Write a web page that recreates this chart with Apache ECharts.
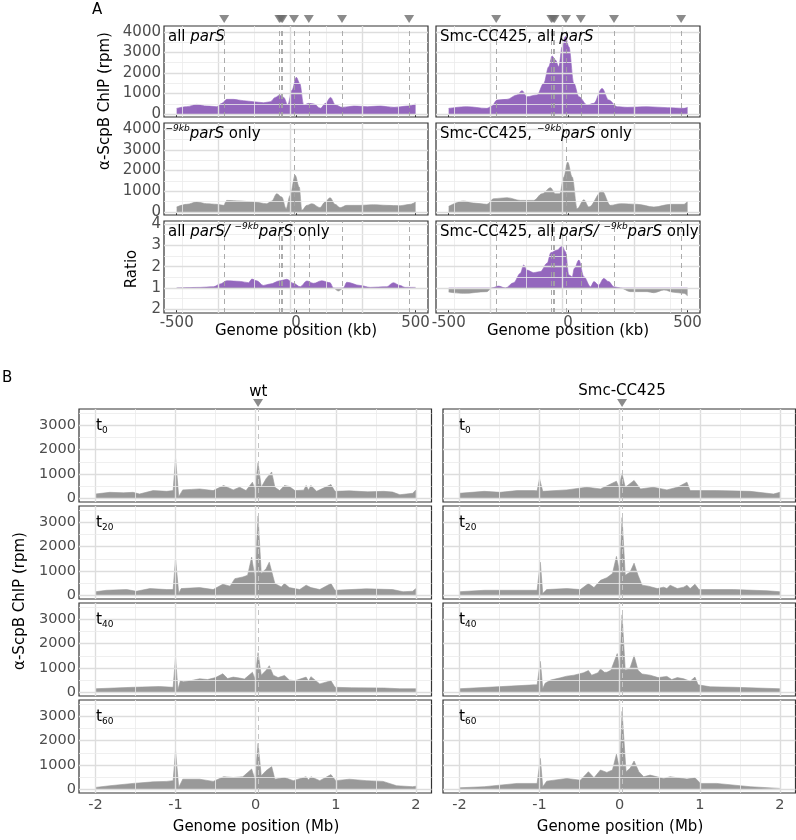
<!DOCTYPE html>
<html><head><meta charset="utf-8">
<script src="https://cdn.jsdelivr.net/npm/echarts@6/dist/echarts.min.js"></script>
<style>html,body{margin:0;padding:0;background:#fff}#c{width:796px;height:840px}</style>
</head><body><div id="c"></div>
<script>
// ---------------- data ----------------
const parsKb = [-301, -70, -63, -57, -9, 53, 192, 473];
const parsKbSingle = [-9];
const parsMb = [0.03];

const ticksKb = [-500, 0, 500];
const ticksRpmA = [0, 1000, 2000, 3000, 4000];
const ticksRatio = [0, 1, 2, 3, 4];
const ratioTickText = ['2', '1', '2', '3', '4'];
const ticksMb = [-2, -1, 0, 1, 2];
const ticksRpmB = [0, 1000, 2000, 3000];

// grid breaks
const gridKbMajor = [-326, -25, 275];
const gridKbMinor = [-476, -176, 125, 426];
const gridRpmAMajor = [0, 1000, 2000, 3000, 4000];
const gridRpmAMinor = [500, 1500, 2500, 3500];
const gridRatioMajor = [0, 1, 2, 3, 4];
const gridRatioMinor = [0.5, 1.5, 2.5, 3.5];
const gridMbMajor = [-2, -1, 0, 1, 2];
const gridMbMinor = [-1.5, -0.5, 0.5, 1.5];
const gridRpmBMajor = [0, 1000, 2000, 3000];
const gridRpmBMinor = [500, 1500, 2500, 3500];

// Panel A (kb, rpm)
const wtAll = [[-500,276],[-458,358],[-416,470],[-374,390],[-332,358],[-311,520],[-290,715],[-262,715],[-220,650],[-178,600],[-136,550],[-108,600],[-87,810],[-69,930],[-52,810],[-35,450],[-17,1170],[1,1790],[15,1500],[32,440],[53,520],[74,490],[102,280],[123,520],[144,810],[165,440],[193,325],[242,390],[298,358],[354,390],[410,325],[466,390],[500,490]];
const wt9kb = [[-500,240],[-458,370],[-416,480],[-374,400],[-332,370],[-304,320],[-290,560],[-234,530],[-178,480],[-123,400],[-102,530],[-81,880],[-60,720],[-42,160],[-25,800],[-4,1770],[13,1200],[24,80],[45,320],[66,400],[100,210],[121,480],[142,690],[163,370],[184,210],[212,320],[268,320],[324,350],[379,320],[435,300],[477,370],[500,480]];
const smcAll = [[-500,276],[-424,358],[-340,276],[-319,390],[-298,680],[-256,715],[-214,930],[-193,1140],[-172,845],[-130,930],[-102,1500],[-81,2310],[-67,2830],[-53,2630],[-39,2310],[-25,3280],[-11,3780],[3,3280],[24,1500],[45,845],[80,440],[107,520],[142,1250],[170,680],[205,358],[247,325],[331,358],[415,310],[485,276],[500,325]];
const smc9kb = [[-500,270],[-438,530],[-396,430],[-340,370],[-312,640],[-256,690],[-200,560],[-144,560],[-109,880],[-74,1170],[-53,880],[-35,880],[-18,1690],[-2,2410],[17,1690],[38,160],[66,590],[87,240],[142,1010],[177,320],[219,400],[289,370],[359,240],[429,370],[485,370],[500,530]];
const ratioWt = [[-500,1.0],[-402,1.03],[-346,1.06],[-318,1.19],[-290,1.34],[-234,1.31],[-199,1.25],[-185,1.42],[-165,1.34],[-137,1.12],[-109,1.19],[-67,1.34],[-39,1.41],[-11,1.22],[17,1.06],[45,1.33],[73,1.22],[107,1.34],[142,1.25],[156,1.0],[177,0.86],[198,1.0],[212,1.27],[268,1.12],[310,1.03],[379,1.06],[407,1.25],[435,1.12],[456,1.03],[500,1.03]];
const ratioSmc = [[-500,0.81],[-438,0.75],[-340,0.83],[-319,1.0],[-291,1.09],[-263,1.0],[-228,1.25],[-200,1.69],[-186,2.08],[-172,1.84],[-144,1.72],[-116,1.77],[-88,2.16],[-72,2.66],[-46,2.78],[-25,2.97],[-11,2.70],[3,1.61],[17,1.53],[26,1.92],[45,2.31],[66,1.53],[94,1.06],[108,1.30],[128,1.14],[149,1.45],[170,1.30],[191,1.06],[219,1.0],[261,0.83],[331,0.83],[359,0.78],[401,0.91],[443,0.80],[485,0.75],[500,0.63]];

// Panel B (Mb, rpm)
const wtT0 = [[-2.0,170],[-1.82,240],[-1.65,220],[-1.53,240],[-1.45,170],[-1.28,310],[-1.11,280],[-1.03,310],[-1.0,1650],[-0.96,60],[-0.91,340],[-0.8,360],[-0.7,380],[-0.53,310],[-0.4,520],[-0.28,340],[-0.2,450],[-0.12,310],[-0.04,660],[-0.01,380],[0.03,1460],[0.07,450],[0.13,800],[0.2,1080],[0.24,450],[0.3,310],[0.36,520],[0.42,480],[0.49,310],[0.6,330],[0.63,520],[0.66,330],[0.69,520],[0.76,280],[0.94,560],[0.99,280],[1.17,300],[1.4,260],[1.6,280],[1.71,250],[1.8,140],[1.96,200],[2.0,340]];
const wtT20 = [[-2.0,140],[-1.86,200],[-1.61,230],[-1.49,160],[-1.32,270],[-1.11,230],[-1.03,230],[-1.0,1500],[-0.96,70],[-0.93,270],[-0.7,310],[-0.53,230],[-0.41,450],[-0.32,370],[-0.26,680],[-0.16,750],[-0.1,820],[-0.05,1570],[-0.01,750],[0.03,3270],[0.07,890],[0.13,1090],[0.17,1360],[0.24,480],[0.32,340],[0.36,480],[0.42,310],[0.55,230],[0.63,410],[0.69,310],[0.8,230],[0.94,480],[0.99,200],[1.38,260],[1.71,230],[1.84,140],[1.96,160],[2.0,270]];
const wtT40 = [[-2.0,140],[-1.53,200],[-1.2,230],[-1.03,200],[-1.0,1430],[-0.97,100],[-0.94,470],[-0.9,430],[-0.8,480],[-0.7,550],[-0.6,520],[-0.5,600],[-0.41,760],[-0.35,560],[-0.28,620],[-0.2,580],[-0.14,540],[-0.04,820],[-0.01,550],[0.03,1630],[0.07,700],[0.13,900],[0.17,1090],[0.22,700],[0.28,600],[0.36,690],[0.42,500],[0.49,470],[0.63,620],[0.66,450],[0.69,640],[0.8,340],[0.94,470],[0.99,200],[1.2,180],[1.6,170],[1.8,140],[2.0,140]];
const wtT60 = [[-2.0,70],[-1.82,140],[-1.53,235],[-1.28,300],[-1.11,320],[-1.03,350],[-1.0,1590],[-0.96,70],[-0.91,410],[-0.7,410],[-0.53,320],[-0.4,510],[-0.28,480],[-0.16,510],[-0.05,830],[-0.01,410],[0.03,1890],[0.07,550],[0.13,760],[0.2,930],[0.24,410],[0.36,480],[0.47,350],[0.63,510],[0.66,380],[0.69,510],[0.8,350],[0.94,600],[1.0,350],[1.17,410],[1.38,350],[1.59,320],[1.76,140],[1.96,100],[2.0,120]];
const smcT0 = [[-2.0,200],[-1.69,280],[-1.49,240],[-1.28,310],[-1.07,310],[-1.03,300],[-1.0,800],[-0.96,280],[-0.66,340],[-0.41,450],[-0.24,380],[-0.04,700],[-0.01,450],[0.03,1010],[0.07,450],[0.18,730],[0.26,380],[0.42,450],[0.59,340],[0.72,450],[0.84,660],[0.88,310],[1.21,310],[1.63,280],[1.92,170],[2.0,240]];
const smcT20 = [[-2.0,140],[-1.69,200],[-1.28,200],[-1.03,200],[-0.99,1360],[-0.96,70],[-0.91,230],[-0.66,270],[-0.49,230],[-0.39,480],[-0.32,310],[-0.24,610],[-0.16,720],[-0.09,890],[-0.04,1600],[0.0,950],[0.03,3200],[0.07,820],[0.13,950],[0.18,1320],[0.23,820],[0.28,410],[0.36,370],[0.47,270],[0.55,330],[0.59,270],[0.63,410],[0.72,270],[0.8,330],[0.84,410],[0.88,270],[0.94,450],[0.99,230],[1.42,230],[1.84,180],[2.0,140]];
const smcT40 = [[-2.0,140],[-1.47,230],[-1.07,300],[-1.03,300],[-0.99,1270],[-0.96,150],[-0.93,370],[-0.86,500],[-0.74,590],[-0.66,660],[-0.57,700],[-0.45,800],[-0.39,890],[-0.35,700],[-0.27,800],[-0.24,960],[-0.19,820],[-0.16,820],[-0.11,900],[-0.03,1590],[0.0,950],[0.03,3190],[0.07,900],[0.13,1000],[0.18,1500],[0.23,900],[0.28,750],[0.38,700],[0.48,600],[0.59,650],[0.65,520],[0.72,600],[0.8,550],[0.88,450],[0.94,620],[0.98,300],[1.13,220],[1.43,200],[2.0,140]];
const smcT60 = [[-2.0,55],[-1.69,100],[-1.28,235],[-1.03,235],[-0.99,1270],[-0.96,100],[-0.91,330],[-0.66,440],[-0.49,370],[-0.39,720],[-0.32,470],[-0.24,790],[-0.16,690],[-0.09,790],[-0.04,1440],[0.0,790],[0.03,3210],[0.08,720],[0.13,860],[0.18,1160],[0.24,720],[0.3,510],[0.38,580],[0.55,440],[0.63,510],[0.72,470],[0.84,415],[0.94,470],[1.01,235],[1.21,235],[1.63,100],[2.0,30]];

// ---------------- build ----------------
const F = 'DejaVu Sans';
const PURPLE = '#9467BD';
const GREY = '#999999';
const MAJ = {color:'#DDDDDD', width:1.4, type:'solid'};
const MIN = {color:'#EBEBEB', width:0.8, type:'solid'};
const grids = [], xAxes = [], yAxes = [], series = [], texts = [];

function panel(o){
  const i = grids.length;
  grids.push({left:o.l, top:o.t, width:o.w, height:o.h, show:true, borderColor:'#333333', borderWidth:1.2, backgroundColor:'rgba(0,0,0,0)'});
  xAxes.push({gridIndex:i, type:'value', min:o.x[0], max:o.x[1], position:'bottom',
    axisLine:{show:false}, splitLine:{show:false},
    axisTick:{show:true, length:3, lineStyle:{color:'#333333', width:1}, customValues:o.xt},
    axisLabel:{show:!!o.xl, customValues:o.xt, margin:o.xm, color:'#4D4D4D', fontSize:o.fs, fontFamily:F, formatter:v=>String(v)}});
  yAxes.push({gridIndex:i, type:'value', min:o.y[0], max:o.y[1], position:'left',
    axisLine:{show:false}, splitLine:{show:false},
    axisTick:{show:true, length:3, lineStyle:{color:'#333333', width:1}, customValues:o.yt},
    axisLabel:{show:!!o.yl, customValues:o.yt, margin:3, color:'#4D4D4D', fontSize:o.fs, fontFamily:F, formatter:o.yf || (v=>String(v))}});
  const ml = [];
  o.vMaj.forEach(v=>ml.push({xAxis:v, lineStyle:MAJ}));
  o.vMin.forEach(v=>ml.push({xAxis:v, lineStyle:MIN}));
  o.hMaj.forEach(v=>ml.push({yAxis:v, lineStyle:MAJ}));
  o.hMin.forEach(v=>ml.push({yAxis:v, lineStyle:MIN}));
  series.push({type:'line', xAxisIndex:i, yAxisIndex:i, data:[[o.x[0], o.y[0]]], symbol:'none', lineStyle:{width:0}, silent:true, z:1,
    markLine:{silent:true, symbol:['none','none'], label:{show:false}, animation:false, data:ml}});
  if (o.dashBelow) {
    series.push({type:'line', xAxisIndex:i, yAxisIndex:i, data:[[o.x[0], o.y[0]]], symbol:'none', lineStyle:{width:0}, silent:true, z:1.5,
      markLine:{silent:true, symbol:['none','none'], label:{show:false}, animation:false,
        lineStyle:{color:'#C4C4C4', width:1, type:[5,4]}, data:o.dashBelow.map(v=>({xAxis:v}))}});
  }
  return i;
}
function area(i, data, color, opt){
  opt = opt || {};
  const s = {type:'line', xAxisIndex:i, yAxisIndex:i, data, symbol:'none', showSymbol:false,
    smooth: opt.smooth || false, smoothMonotone:'x', silent:true, z:3,
    lineStyle:{color, width:0.6}, areaStyle:{color, opacity:1, origin: opt.origin == null ? 'auto' : opt.origin}};
  if (opt.dash) s.markLine = {silent:true, symbol:['none','none'], label:{show:false}, animation:false,
    lineStyle:{color:'#A3A3A3', width:0.9, type:[5,4]}, data:opt.dash.map(v=>({xAxis:v}))};
  series.push(s);
}
function markers(l, t, w, h, xr, vals){
  const i = grids.length;
  grids.push({left:l, top:t, width:w, height:h, show:false});
  xAxes.push({gridIndex:i, type:'value', min:xr[0], max:xr[1], show:false});
  yAxes.push({gridIndex:i, type:'value', min:-1, max:1, show:false});
  series.push({type:'scatter', xAxisIndex:i, yAxisIndex:i, data:vals.map(v=>[v,0]), symbol:'triangle', symbolRotate:180,
    symbolSize:[10,8], itemStyle:{color:'#6E6E6E'}, silent:true, z:5});
}
const rich = {
  n:{fontSize:15, fontFamily:F, fill:'#000', lineHeight:19},
  i:{fontSize:15, fontFamily:F, fontStyle:'italic', fill:'#000', lineHeight:19},
  sup:{fontSize:9, fontFamily:F, fontStyle:'italic', fill:'#000', lineHeight:13, verticalAlign:'top'},
  t:{fontSize:15.5, fontFamily:F, fill:'#000', lineHeight:19},
  sub:{fontSize:9, fontFamily:F, fill:'#000', lineHeight:9, verticalAlign:'bottom'}
};
function txt(x, y, text, o){
  o = o || {};
  texts.push({type:'text', x, y, rotation:o.rot || 0, silent:true, z:10,
    style:{text, fill:o.fill || '#000', fontSize:o.fs || 15, fontFamily:F, align:o.align || 'left', verticalAlign:'middle', rich:o.rich ? rich : undefined}});
}

// ---- Panel A ----
const AX = [-553, 552], AY = [-145, 4290], AR = [-0.17, 4.14];
const colA = [164, 436], rowA = [[26,91],[123,92],[221,92]];
const baseA = {w:264, x:AX, xt:ticksKb, xm:3, fs:15, vMaj:gridKbMajor, vMin:gridKbMinor};
const aL1 = panel(Object.assign({}, baseA, {l:colA[0], t:rowA[0][0], h:rowA[0][1], y:AY, yt:ticksRpmA, yl:true, hMaj:gridRpmAMajor, hMin:gridRpmAMinor}));
area(aL1, wtAll, PURPLE, {smooth:0.35, dash:parsKb});
const aR1 = panel(Object.assign({}, baseA, {l:colA[1], t:rowA[0][0], h:rowA[0][1], y:AY, yt:ticksRpmA, hMaj:gridRpmAMajor, hMin:gridRpmAMinor}));
area(aR1, smcAll, PURPLE, {smooth:0.35, dash:parsKb});
const aL2 = panel(Object.assign({}, baseA, {l:colA[0], t:rowA[1][0], h:rowA[1][1], y:AY, yt:ticksRpmA, yl:true, hMaj:gridRpmAMajor, hMin:gridRpmAMinor}));
area(aL2, wt9kb, GREY, {smooth:0.35, dash:parsKbSingle});
const aR2 = panel(Object.assign({}, baseA, {l:colA[1], t:rowA[1][0], h:rowA[1][1], y:AY, yt:ticksRpmA, hMaj:gridRpmAMajor, hMin:gridRpmAMinor}));
area(aR2, smc9kb, GREY, {smooth:0.35, dash:parsKbSingle});
const ratioFmt = v => ratioTickText[Math.round(v)];
const aL3 = panel(Object.assign({}, baseA, {l:colA[0], t:rowA[2][0], h:rowA[2][1], y:AR, yt:ticksRatio, yl:true, xl:true, yf:ratioFmt, hMaj:gridRatioMajor, hMin:gridRatioMinor}));
area(aL3, ratioWt.map(d=>[d[0], Math.min(d[1],1)]), GREY, {smooth:0.35, origin:1});
area(aL3, ratioWt.map(d=>[d[0], Math.max(d[1],1)]), PURPLE, {smooth:0.35, origin:1, dash:parsKb});
const aR3 = panel(Object.assign({}, baseA, {l:colA[1], t:rowA[2][0], h:rowA[2][1], y:AR, yt:ticksRatio, xl:true, yf:ratioFmt, hMaj:gridRatioMajor, hMin:gridRatioMinor}));
area(aR3, ratioSmc.map(d=>[d[0], Math.min(d[1],1)]), GREY, {smooth:0.35, origin:1});
area(aR3, ratioSmc.map(d=>[d[0], Math.max(d[1],1)]), PURPLE, {smooth:0.35, origin:1, dash:parsKb});
markers(colA[0], 14, 264, 10, AX, parsKb);
markers(colA[1], 14, 264, 10, AX, parsKb);

// ---- Panel B ----
const BX = [-2.205, 2.195], BY = [-160, 3680];
const colB = [79, 443], rowB = [409, 506, 603, 700];
const baseB = {w:352.5, h:93, x:BX, xt:ticksMb, xm:5, fs:14.5, y:BY, yt:ticksRpmB, vMaj:gridMbMajor, vMin:gridMbMinor, hMaj:gridRpmBMajor, hMin:gridRpmBMinor, dashBelow:parsMb};
const wtSets = [wtT0, wtT20, wtT40, wtT60];
const smcSets = [smcT0, smcT20, smcT40, smcT60];
const tNames = ['0', '20', '40', '60'];
rowB.forEach((top, r) => {
  const li = panel(Object.assign({}, baseB, {l:colB[0], t:top, yl:true, xl: r === 3}));
  area(li, wtSets[r], GREY);
  const ri = panel(Object.assign({}, baseB, {l:colB[1], t:top, xl: r === 3}));
  area(ri, smcSets[r], GREY);
  txt(96, top + 16.5, '{t|t}{sub|' + tNames[r] + '}', {rich:true});
  txt(459, top + 16.5, '{t|t}{sub|' + tNames[r] + '}', {rich:true});
});
markers(colB[0], 398, 352.5, 10, BX, parsMb);
markers(colB[1], 398, 352.5, 10, BX, parsMb);

// ---- texts ----
txt(92, 10, 'A');
txt(2, 378, 'B');
txt(168, rowA[0][0] + 10.8, '{n|all }{i|parS}', {rich:true});
txt(440, rowA[0][0] + 10.8, '{n|Smc-CC425, all }{i|parS}', {rich:true});
txt(165.5, rowA[1][0] + 10.8, '{sup|\u22129kb}{i|parS}{n| only}', {rich:true});
txt(440, rowA[1][0] + 10.8, '{n|Smc-CC425, }{sup|\u22129kb}{i|parS}{n| only}', {rich:true});
txt(168, rowA[2][0] + 10.8, '{n|all }{i|parS/ }{sup|\u22129kb}{i|parS}{n| only}', {rich:true});
txt(440, rowA[2][0] + 10.8, '{n|Smc-CC425, all }{i|parS/ }{sup|\u22129kb}{i|parS}{n| only}', {rich:true});
txt(296, 331, 'Genome position (kb)', {align:'center'});
txt(568, 331, 'Genome position (kb)', {align:'center'});
txt(105, 101, '\u03B1-ScpB ChIP (rpm)', {align:'center', rot:Math.PI/2});
txt(132, 269, 'Ratio', {align:'center', rot:Math.PI/2});
txt(258.3, 392, 'wt', {align:'center'});
txt(622, 391.5, 'Smc-CC425', {align:'center'});
txt(20.5, 601, '\u03B1-ScpB ChIP (rpm)', {align:'center', rot:Math.PI/2});
txt(256, 827.5, 'Genome position (Mb)', {align:'center'});
txt(620, 827.5, 'Genome position (Mb)', {align:'center'});

const chart = echarts.init(document.getElementById('c'), null, {renderer:'canvas'});
chart.setOption({
  animation:false,
  backgroundColor:'#ffffff',
  textStyle:{fontFamily:F},
  grid:grids, xAxis:xAxes, yAxis:yAxes, series,
  graphic:{elements:texts}
});
</script></body></html>
